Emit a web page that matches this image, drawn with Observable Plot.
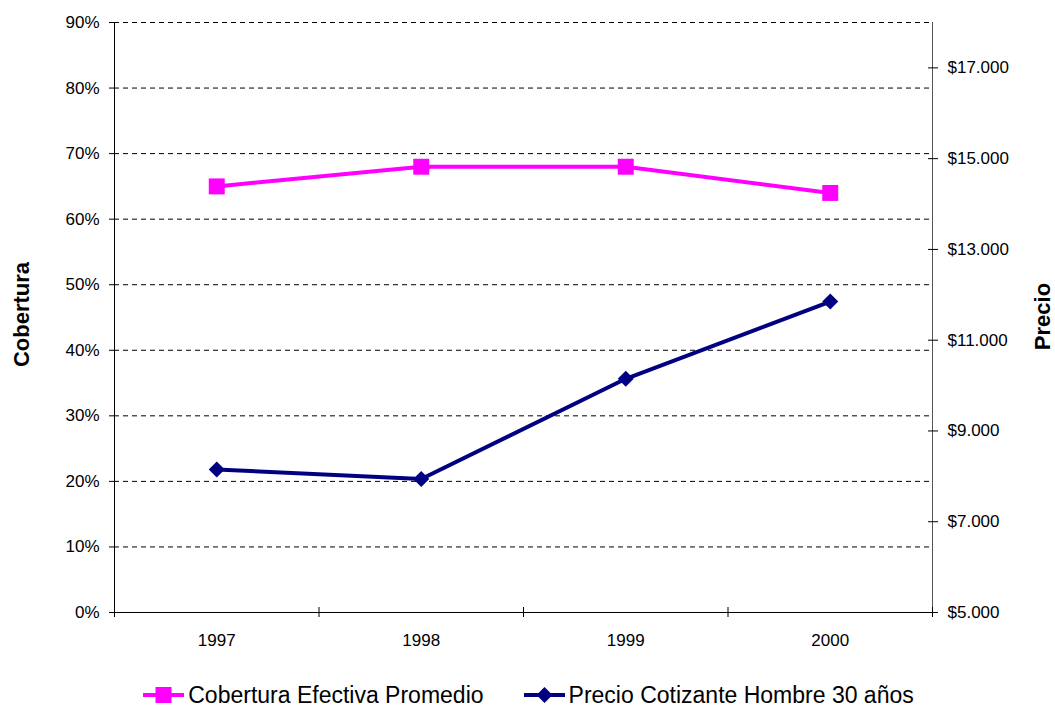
<!DOCTYPE html>
<html>
<head>
<meta charset="utf-8">
<script src="https://cdn.jsdelivr.net/npm/d3@7"></script>
<script src="https://cdn.jsdelivr.net/npm/@observablehq/plot@0.6"></script>
<style>
  html, body { margin: 0; padding: 0; background: #fff; overflow: hidden; }
  body { width: 1055px; height: 706px; font-family: "Liberation Sans", Arial, sans-serif; }
  #legend { display: flex; justify-content: center; align-items: center; gap: 40px;
            font-size: 23px; line-height: 26px; height: 26px; margin-top: 22px; color: #000; padding-left: 2px; }
  .item { display: flex; align-items: center; }
  .item svg { margin-right: 4px; }
</style>
</head>
<body>
<div id="chart"></div>
<div id="legend"></div>
<script>
// ---- data ----
const years = [1997, 1998, 1999, 2000];
const cobertura = [0.65, 0.68, 0.68, 0.64];
const precio = [8150, 7940, 10150, 11850];
const leftTicks = [0, 0.1, 0.2, 0.3, 0.4, 0.5, 0.6, 0.7, 0.8, 0.9];
const rightTicks = [5000, 7000, 9000, 11000, 13000, 15000, 17000];
const priceMin = 5000, priceMax = 18000;
const seriesNames = ["Cobertura Efectiva Promedio", "Precio Cotizante Hombre 30 años"];
const seriesColors = ["#FF00FF", "#000080"];

const yMax = leftTicks[leftTicks.length - 1];
const priceToY = p => (p - priceMin) / (priceMax - priceMin) * yMax;
const yToPrice = y => y / yMax * (priceMax - priceMin) + priceMin;
const locale = d3.formatLocale({decimal: ",", thousands: ".", grouping: [3], currency: ["$", ""]});
const fmtPrice = locale.format("$,.0f");

const rows = years.map((yr, i) => ({year: yr, cob: cobertura[i], price: precio[i]}));
const bounds = [years[0] - 0.5, ...years.map(y => y + 0.5)];

const chart = Plot.plot({
  width: 1055,
  height: 660,
  marginLeft: 114,
  marginRight: 123,
  marginTop: 22,
  marginBottom: 48,
  style: {fontFamily: "'Liberation Sans', Arial, sans-serif", fontSize: "17px", color: "#000", background: "#fff"},
  x: {type: "linear", domain: [bounds[0], bounds[bounds.length - 1]]},
  y: {domain: [0, yMax]},
  marks: [
    Plot.ruleY(leftTicks.filter(d => d > 0), {stroke: "#000", strokeDasharray: "5,4"}),
    Plot.ruleX([bounds[0]], {y1: 0, y2: yMax, stroke: "#000"}),
    Plot.ruleX([bounds[bounds.length - 1]], {y1: 0, y2: yMax, stroke: "#555"}),
    Plot.ruleY([0], {stroke: "#000"}),
    Plot.axisY(leftTicks, {anchor: "left", tickSize: 5, tickPadding: 10, tickFormat: d3.format(".0%"), label: null}),
    Plot.axisY(rightTicks.map(priceToY), {anchor: "right", tickSize: 10, dx: -5, tickPadding: 10,
      tickFormat: d => fmtPrice(Math.round(yToPrice(d))), label: null}),
    Plot.axisX(bounds, {anchor: "bottom", tickSize: 10, dy: -5, tickFormat: () => "", label: null}),
    Plot.axisX(years, {anchor: "bottom", tickSize: 0, tickPadding: 21, tickFormat: d => String(d), label: null}),
    Plot.text(["Cobertura"], {frameAnchor: "left", textAnchor: "middle", dx: -93, dy: -3, rotate: -90, fontWeight: "bold", fontSize: 22}),
    Plot.text(["Precio"], {frameAnchor: "right", textAnchor: "middle", dx: 110, dy: -1, rotate: -90, fontWeight: "bold", fontSize: 22}),
    Plot.line(rows, {x: "year", y: "cob", stroke: seriesColors[0], strokeWidth: 4}),
    Plot.dot(rows, {x: "year", y: "cob", symbol: "square", r: 9, fill: seriesColors[0], stroke: null}),
    Plot.line(rows, {x: "year", y: d => priceToY(d.price), stroke: seriesColors[1], strokeWidth: 4}),
    Plot.dot(rows, {x: "year", y: d => priceToY(d.price), symbol: "diamond2", r: 7.2, fill: seriesColors[1], stroke: null})
  ]
});
document.getElementById("chart").appendChild(chart);

// ---- legend ----
const legend = d3.select("#legend");
const markers = ["square", "diamond"];
seriesNames.forEach((name, i) => {
  const item = legend.append("div").attr("class", "item");
  const svg = item.append("svg").attr("width", 41).attr("height", 20);
  svg.append("line").attr("x1", 0).attr("x2", 41).attr("y1", 10).attr("y2", 10)
    .attr("stroke", seriesColors[i]).attr("stroke-width", 4);
  if (markers[i] === "square") {
    svg.append("rect").attr("x", 12.5).attr("y", 2).attr("width", 16).attr("height", 16).attr("fill", seriesColors[i]);
  } else {
    svg.append("path").attr("d", "M20.5,2L28.5,10L20.5,18L12.5,10Z").attr("fill", seriesColors[i]);
  }
  item.append("span").text(name);
});
</script>
</body>
</html>
